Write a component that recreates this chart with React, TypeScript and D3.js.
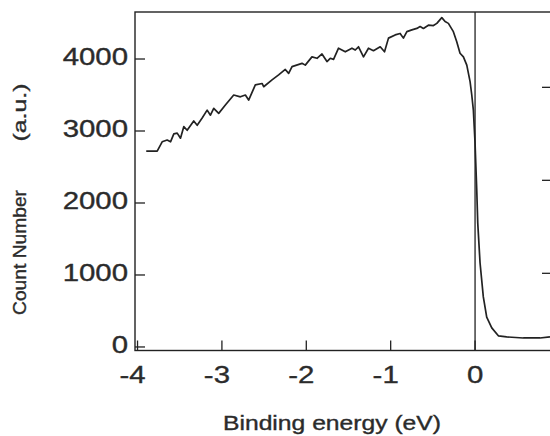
import React from "react";
import * as d3 from "d3";

// spectrum: binding energy (eV) and counts
const energy = [
  -3.897, -3.767, -3.708, -3.649, -3.609, -3.57, -3.53, -3.491, -3.452, -3.412,
  -3.334, -3.293, -3.234, -3.175, -3.136, -3.097, -3.038, -2.959, -2.86, -2.781,
  -2.722, -2.683, -2.604, -2.524, -2.505, -2.406, -2.328, -2.249, -2.209, -2.169,
  -2.051, -2.012, -1.933, -1.873, -1.814, -1.755, -1.716, -1.677, -1.618, -1.538,
  -1.459, -1.42, -1.381, -1.322, -1.263, -1.204, -1.124, -1.073, -1.026, -0.947,
  -0.888, -0.849, -0.808, -0.749, -0.69, -0.651, -0.612, -0.553, -0.493, -0.453,
  -0.394, -0.355, -0.316, -0.257, -0.217, -0.178, -0.138, -0.098, -0.059, -0.039,
  -0.02, 0.0, 0.02, 0.032, 0.059, 0.098, 0.138, 0.198, 0.276, 0.375,
  0.572, 0.769, 0.888,
];
const counts = [
  2720, 2720, 2850, 2875, 2850, 2960, 2970, 2900, 3060, 3010,
  3140, 3080, 3180, 3290, 3220, 3315, 3245, 3360, 3500, 3475,
  3500, 3430, 3640, 3660, 3615, 3710, 3780, 3855, 3800, 3895,
  3940, 3915, 4030, 4010, 4070, 3965, 4010, 3995, 4150, 4100,
  4150, 4125, 4170, 4030, 4150, 4115, 4170, 4100, 4290, 4335,
  4355, 4290, 4380, 4405, 4425, 4450, 4425, 4470, 4465, 4495,
  4575, 4520, 4495, 4380, 4240, 4080, 4030, 3915, 3685, 3500,
  3290, 2830, 2180, 1720, 1170, 695, 415, 265, 155, 140,
  125, 125, 140,
];

const xTicks = [-4, -3, -2, -1, 0, 1];
const yTicks = [0, 1000, 2000, 3000, 4000];
const rightTicks = [1, 2, 3];

const xLabel = "Binding energy (eV)";
const yLabelMain = "Count Number";
const yLabelUnit = "(a.u.)";

const W = 550;
const H = 436;
const ink = "#222";
const textInk = "#2b2b2b";
const font = "'Liberation Sans', Arial, Helvetica, sans-serif";

export default function App() {
  const x = d3.scaleLinear().domain([-4.03, 0.9]).range([135, 551]);
  const y = d3.scaleLinear().domain([-49, 4653]).range([350.5, 12]);
  const yRight = d3.scaleLinear().domain([0.17, 3.81]).range([350.5, 12]);

  const pts = energy.map((e, i) => [e, counts[i]] as [number, number]);
  const line = d3
    .line<[number, number]>()
    .x((d) => x(d[0]))
    .y((d) => y(d[1]));

  const [x0, x1] = x.range();
  const [yb, yt] = y.range();

  const textStyle = {
    fontFamily: font,
    fill: textInk,
    stroke: textInk,
    strokeWidth: 0.35,
  };

  return (
    <svg
      width={W}
      height={H}
      style={{ position: "absolute", left: 0, top: 0, background: "#fff" }}
    >
      {/* frame */}
      <rect
        x={x0}
        y={yt}
        width={x1 - x0}
        height={yb - yt}
        fill="none"
        stroke={ink}
        strokeWidth={1.4}
      />
      {/* vertical line at E = 0 */}
      <line x1={x(0)} x2={x(0)} y1={yt} y2={yb} stroke={ink} strokeWidth={1.3} />

      {/* x ticks, pointing in */}
      {xTicks.map((t) => (
        <g key={"xt" + t}>
          <line x1={x(t)} x2={x(t)} y1={yb} y2={yb - 10} stroke={ink} strokeWidth={1.3} />
          <text
            transform={`translate(${x(t) + (t < 0 ? -5 : 0)},383) scale(1.25,1)`}
            textAnchor="middle"
            fontSize={23.5}
            style={textStyle}
          >
            {t}
          </text>
        </g>
      ))}

      {/* y ticks, pointing in */}
      {yTicks.map((t) => (
        <g key={"yt" + t}>
          <line x1={x0} x2={x0 + 10} y1={y(t)} y2={y(t)} stroke={ink} strokeWidth={1.3} />
          <text
            transform={`translate(128,${y(t) - 2}) scale(1.25,1)`}
            textAnchor="end"
            dy="0.36em"
            fontSize={23.5}
            style={textStyle}
          >
            {t}
          </text>
        </g>
      ))}

      {/* ticks of the right-hand axis (its labels fall outside the crop) */}
      {rightTicks.map((t) => (
        <line
          key={"rt" + t}
          x1={x1}
          x2={x1 - 9}
          y1={yRight(t)}
          y2={yRight(t)}
          stroke={ink}
          strokeWidth={1.3}
        />
      ))}

      {/* spectrum */}
      <path d={line(pts) ?? ""} fill="none" stroke={ink} strokeWidth={1.7} strokeLinejoin="round" />

      {/* axis titles */}
      <text
        x={332}
        y={430}
        textAnchor="middle"
        fontSize={19.5}
        style={textStyle}
        textLength={218}
        lengthAdjust="spacingAndGlyphs"
      >
        {xLabel}
      </text>
      <text
        transform="translate(25.5,252.5) rotate(-90)"
        textAnchor="middle"
        fontSize={17.5}
        style={textStyle}
        textLength={125}
        lengthAdjust="spacingAndGlyphs"
      >
        {yLabelMain}
      </text>
      <text
        transform="translate(25.5,112.5) rotate(-90)"
        textAnchor="middle"
        fontSize={17.5}
        style={textStyle}
        textLength={58}
        lengthAdjust="spacingAndGlyphs"
      >
        {yLabelUnit}
      </text>
    </svg>
  );
}
